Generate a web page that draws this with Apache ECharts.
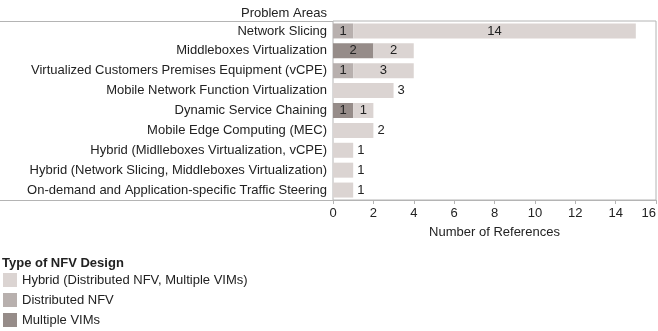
<!DOCTYPE html>
<html>
<head>
<meta charset="utf-8">
<script src="https://cdn.jsdelivr.net/npm/echarts@6/dist/echarts.min.js"></script>
<style>
  html, body { margin: 0; padding: 0; background: #fff; }
  #chart { width: 658px; height: 331px; }
</style>
</head>
<body>
<div id="chart"></div>
<script>
// problem areas, top to bottom
const categories = [
    'Network Slicing',
    'Middleboxes Virtualization',
    'Virtualized Customers Premises Equipment (vCPE)',
    'Mobile Network Function Virtualization',
    'Dynamic Service Chaining',
    'Mobile Edge Computing (MEC)',
    'Hybrid (Midlleboxes Virtualization, vCPE)',
    'Hybrid (Network Slicing, Middleboxes Virtualization)',
    'On-demand and Application-specific Traffic Steering'
];
const multipleVims   = [0, 2, 0, 0, 1, 0, 0, 0, 0];
const distributedNfv = [1, 0, 1, 0, 0, 0, 0, 0, 0];
const hybrid         = [14, 2, 3, 3, 1, 2, 1, 1, 1];
const xTicks = [0, 2, 4, 6, 8, 10, 12, 14, 16];

const font = '"Liberation Sans", Arial, sans-serif';
const txt = '#222';

//a row with a single segment gets its label outside, stacked rows get it centered
function segCount(i){
    return [multipleVims, distributedNfv, hybrid].filter(a => a[i] > 0).length;
}
function buildData(arr){
    return arr.map((v, i) => {
        if(!v) return null;
        let single = segCount(i) === 1;
        return {
            value: v,
            label: {position: single ? 'right' : 'inside', distance: 4}
        };
    });
}

function mkSeries(name, arr, color){
    return {
        name: name,
        type: 'bar',
        stack: 'refs',
        barWidth: 15,
        itemStyle: {color: color},
        label: {
            show: true,
            color: txt,
            fontFamily: font,
            fontSize: 13
        },
        data: buildData(arr)
    };
}

const chart = echarts.init(document.getElementById('chart'));
chart.setOption({
    animation: false,
    textStyle: {fontFamily: font},
    grid: {
        left: 333,
        right: 2,
        top: 21,
        bottom: 131,
        outerBoundsMode: 'none',
        show: true,
        borderColor: '#b4b4b4',
        borderWidth: 1
    },
    legend: {
        orient: 'vertical',
        left: 3,
        top: 273,
        height: 58,
        padding: 0,
        itemWidth: 14,
        itemHeight: 14,
        itemGap: 6,
        icon: 'rect',
        textStyle: {color: txt, fontSize: 13, fontFamily: font},
        data: ['Hybrid (Distributed NFV, Multiple VIMs)', 'Distributed NFV', 'Multiple VIMs']
    },
    xAxis: {
        type: 'value',
        min: xTicks[0],
        max: xTicks[xTicks.length - 1],
        interval: xTicks[1] - xTicks[0],
        name: 'Number of References',
        nameLocation: 'middle',
        nameGap: 26,
        nameTextStyle: {color: txt, fontSize: 13, fontFamily: font},
        axisLine: {show: true, lineStyle: {color: '#b4b4b4'}},
        axisTick: {show: true, length: 4, lineStyle: {color: '#b4b4b4'}},
        axisLabel: {
            color: txt,
            fontSize: 13,
            fontFamily: font,
            margin: 7,
            alignMaxLabel: 'right'
        },
        splitLine: {show: false}
    },
    yAxis: {
        type: 'category',
        inverse: true,
        data: categories,
        axisLine: {show: false},
        axisTick: {show: false},
        axisLabel: {color: txt, fontSize: 13, fontFamily: font, margin: 6}
    },
    graphic: [
        {type: 'line', shape: {x1: 0, y1: 21.5, x2: 333, y2: 21.5}, style: {stroke: '#b4b4b4', lineWidth: 1}},
        {type: 'line', shape: {x1: 0, y1: 200.5, x2: 333, y2: 200.5}, style: {stroke: '#b4b4b4', lineWidth: 1}},
        {type: 'text', x: 327, y: 13, style: {text: 'Problem Areas', align: 'right', verticalAlign: 'middle', font: '13px ' + font, fill: txt}},
        {type: 'text', x: 2, y: 263, style: {text: 'Type of NFV Design', align: 'left', verticalAlign: 'middle', font: 'bold 13px ' + font, fill: txt}}
    ],
    series: [
        mkSeries('Multiple VIMs', multipleVims, '#968c89'),
        mkSeries('Distributed NFV', distributedNfv, '#b8b0ae'),
        mkSeries('Hybrid (Distributed NFV, Multiple VIMs)', hybrid, '#dbd4d2')
    ]
});
</script>
</body>
</html>
